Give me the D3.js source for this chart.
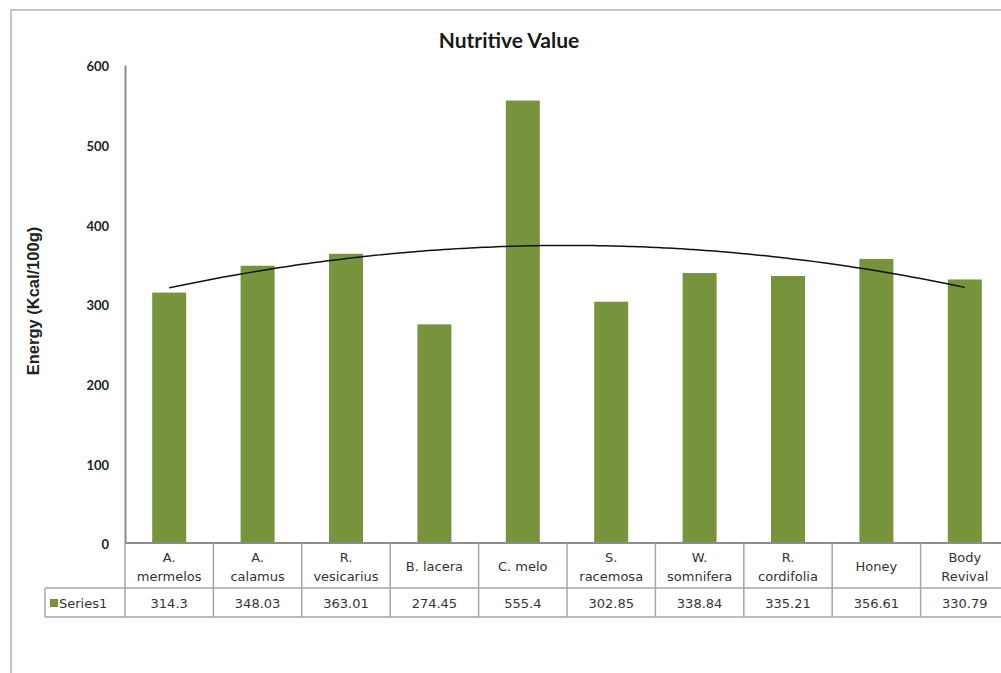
<!DOCTYPE html>
<html>
<head>
<meta charset="utf-8">
<script src="https://cdn.jsdelivr.net/npm/d3@7"></script>
<style>
  body { margin: 0; background: #fff; }
  svg { display: block; }
</style>
</head>
<body>
<div id="chart"></div>
<script>
// chart data
const categories = ["A. mermelos", "A. calamus", "R. vesicarius", "B. lacera", "C. melo",
  "S. racemosa", "W. somnifera", "R. cordifolia", "Honey", "Body Revival"];
const headerLines = [["A.", "mermelos"], ["A.", "calamus"], ["R.", "vesicarius"], ["B. lacera"], ["C. melo"],
  ["S.", "racemosa"], ["W.", "somnifera"], ["R.", "cordifolia"], ["Honey"], ["Body", "Revival"]];
const energy = [314.3, 348.03, 363.01, 274.45, 555.4, 302.85, 338.84, 335.21, 356.61, 330.79];
const valueLabels = ["314.3", "348.03", "363.01", "274.45", "555.4", "302.85", "338.84", "335.21", "356.61", "330.79"];
const yTicks = [0, 100, 200, 300, 400, 500, 600];
const seriesName = "Series1";

const width = 1001;
const height = 673;
const plotLeft = 125, plotRight = 1009, plotTop = 65, base = 543;
const rowMid = 588, rowBottom = 617, legendLeft = 45;
const barColor = "#77933c";
const gridColor = "#a6a6a6";
const tableFont = "'DejaVu Sans', Verdana, sans-serif";

const svg = d3.select('#chart').append('svg')
  .attr('width', width)
  .attr('height', height);

// outer frame (right and bottom sides run off the picture)
svg.append('path')
  .attr('d', `M11,${height + 5}V10H${width + 5}`)
  .attr('fill', 'none')
  .attr('stroke', '#c4c4c4')
  .attr('stroke-width', 2);

const x = d3.scaleBand().domain(categories).range([plotLeft, plotRight]).paddingInner(0).paddingOuter(0);
const y = d3.scaleLinear().domain([0, 600]).range([base, plotTop]);

svg.append('text')
  .attr('x', 509).attr('y', 48)
  .attr('text-anchor', 'middle')
  .attr('font-family', 'Lato, sans-serif')
  .attr('font-weight', 'bold')
  .attr('font-size', 21)
  .attr('fill', '#1a1a1a')
  .text('Nutritive Value');

// y axis
const yAxis = svg.append('g')
  .attr('transform', `translate(${plotLeft},0)`)
  .call(d3.axisLeft(y).tickValues(yTicks).tickSize(0).tickPadding(16));
yAxis.select('.domain').attr('stroke', '#8c8c8c').attr('stroke-width', 2);
yAxis.selectAll('text')
  .attr('font-family', 'Lato, sans-serif')
  .attr('font-weight', 'bold')
  .attr('font-size', 13)
  .attr('fill', '#222')
  .attr('dy', '0.45em');

svg.append('text')
  .attr('transform', 'translate(39,301) rotate(-90)')
  .attr('text-anchor', 'middle')
  .attr('font-family', "'Liberation Sans', Arial, sans-serif")
  .attr('font-weight', 'bold')
  .attr('font-size', 16.5)
  .attr('fill', '#222')
  .text('Energy (Kcal/100g)');

// bars
const barW = 34;
svg.append('g').selectAll('rect')
  .data(energy)
  .join('rect')
  .attr('x', (d, i) => x(categories[i]) + x.bandwidth() / 2 - barW / 2)
  .attr('y', d => y(d))
  .attr('width', barW)
  .attr('height', d => y(0) - y(d))
  .attr('fill', barColor);

// polynomial (order 2) trendline by least squares
function quadFit(vals) {
  let s = [0, 0, 0, 0, 0], t = [0, 0, 0];
  vals.forEach((v, i) => {
    const xi = i + 1;
    for (let k = 0; k < 5; k++) s[k] += Math.pow(xi, k);
    for (let k = 0; k < 3; k++) t[k] += v * Math.pow(xi, k);
  });
  const A = [[s[0], s[1], s[2], t[0]], [s[1], s[2], s[3], t[1]], [s[2], s[3], s[4], t[2]]];
  for (let c = 0; c < 3; c++) {
    for (let r = c + 1; r < 3; r++) {
      const f = A[r][c] / A[c][c];
      for (let k = c; k < 4; k++) A[r][k] -= f * A[c][k];
    }
  }
  const b = [0, 0, 0];
  for (let r = 2; r >= 0; r--) {
    let acc = A[r][3];
    for (let k = r + 1; k < 3; k++) acc -= A[r][k] * b[k];
    b[r] = acc / A[r][r];
  }
  return xv => b[0] + b[1] * xv + b[2] * xv * xv;
}
const fit = quadFit(energy);
const trendPts = d3.range(1, 10.001, 0.1);
const xPos = d3.scaleLinear().domain([1, 10])
  .range([x(categories[0]) + x.bandwidth() / 2, x(categories[9]) + x.bandwidth() / 2]);
svg.append('path')
  .datum(trendPts)
  .attr('d', d3.line().x(d => xPos(d)).y(d => y(fit(d))).curve(d3.curveBasis))
  .attr('fill', 'none')
  .attr('stroke', '#111')
  .attr('stroke-width', 1.5);

// data table
const table = svg.append('g').attr('stroke', gridColor).attr('stroke-width', 1.5);
table.append('line').attr('x1', plotLeft).attr('x2', plotRight).attr('y1', base).attr('y2', base)
  .attr('stroke', '#8c8c8c').attr('stroke-width', 2);
table.append('line').attr('x1', legendLeft).attr('x2', plotRight).attr('y1', rowMid).attr('y2', rowMid);
table.append('line').attr('x1', legendLeft).attr('x2', plotRight).attr('y1', rowBottom).attr('y2', rowBottom);
table.append('line').attr('x1', legendLeft).attr('x2', legendLeft).attr('y1', rowMid).attr('y2', rowBottom);
table.selectAll('.sep')
  .data(categories.concat(['end']))
  .join('line')
  .attr('x1', (d, i) => plotLeft + i * x.bandwidth())
  .attr('x2', (d, i) => plotLeft + i * x.bandwidth())
  .attr('y1', base).attr('y2', rowBottom);

const head = svg.append('g')
  .attr('font-family', tableFont)
  .attr('font-size', 13)
  .attr('fill', '#333')
  .attr('text-anchor', 'middle');
head.selectAll('text')
  .data(headerLines)
  .join('text')
  .attr('x', (d, i) => x(categories[i]) + x.bandwidth() / 2)
  .attr('y', d => d.length === 2 ? 562 : 571)
  .each(function (d) {
    d3.select(this).selectAll('tspan')
      .data(d)
      .join('tspan')
      .attr('x', d3.select(this).attr('x'))
      .attr('dy', (l, j) => j === 0 ? 0 : 19)
      .text(l => l);
  });

head.append('g').selectAll('text')
  .data(valueLabels)
  .join('text')
  .attr('x', (d, i) => x(categories[i]) + x.bandwidth() / 2)
  .attr('y', 608)
  .text(d => d);

svg.append('rect')
  .attr('x', 50).attr('y', 599).attr('width', 8).attr('height', 8)
  .attr('fill', barColor);
svg.append('text')
  .attr('x', 59).attr('y', 608)
  .attr('font-family', tableFont)
  .attr('font-size', 13)
  .attr('fill', '#333')
  .text(seriesName);
</script>
</body>
</html>
